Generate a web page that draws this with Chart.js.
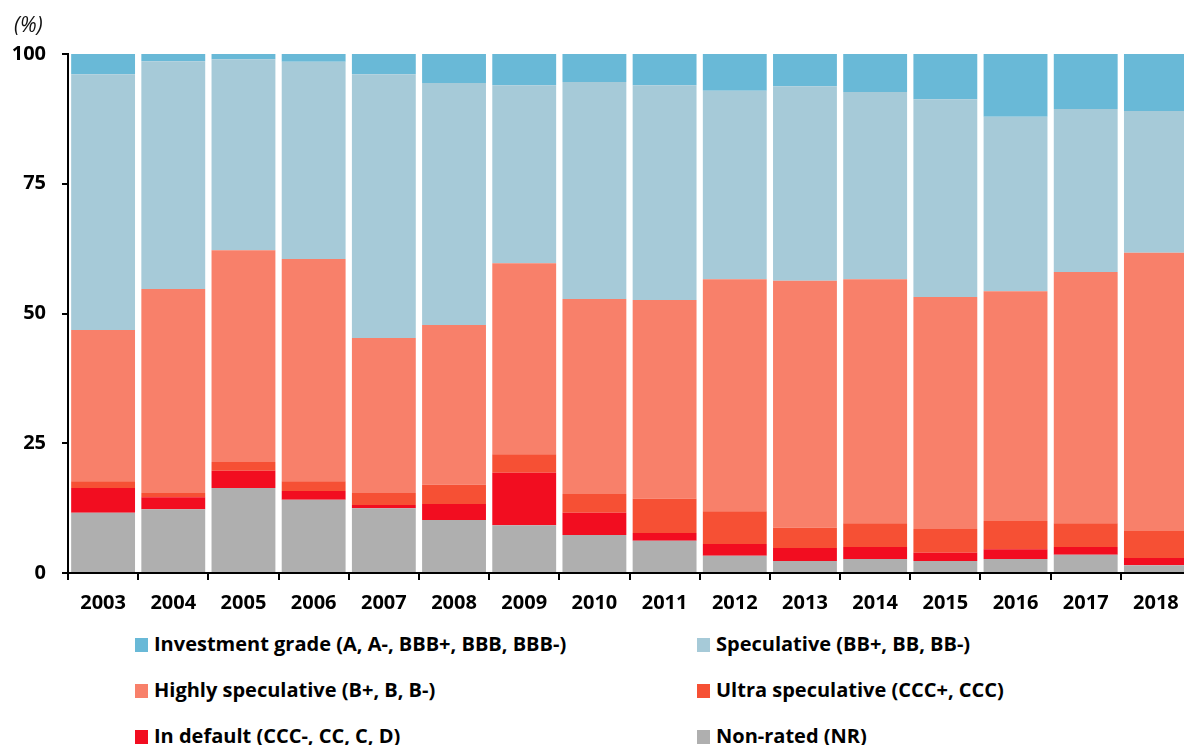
<!DOCTYPE html>
<html>
<head>
<meta charset="utf-8">
<script src="https://cdn.jsdelivr.net/npm/chart.js@4"></script>
<style>
    body { margin: 0; overflow: hidden; background: #fff; font-family: "Open Sans", sans-serif; }
    #wrap { position: relative; width: 1184px; height: 745px; overflow: hidden; }
    #myChart { position: absolute; left: 0; top: 0; }
    #unit { position: absolute; left: 14px; top: 10px; font-style: italic; font-size: 21px; color: #111; }
    .leg { position: absolute; font-weight: 700; font-size: 20px; color: #000; white-space: nowrap; line-height: 24px; letter-spacing: 0px; }
    .leg span { display: inline-block; width: 13px; height: 14px; margin-right: 6px; vertical-align: -1px; }
</style>
</head>
<body>
<div id="wrap">
    <canvas id="myChart" width="1191" height="625"></canvas>
    <div id="unit">(%)</div>
    <div id="legend"></div>
</div>
<script>
const years = ["2003", "2004", "2005", "2006", "2007", "2008", "2009", "2010",
    "2011", "2012", "2013", "2014", "2015", "2016", "2017", "2018"];

// shares in % of each year, bottom of the stack first
const nonRated = [11.6, 12.3, 16.4, 14.1, 12.5, 10.2, 9.2, 7.3, 6.2, 3.3, 2.3, 2.7, 2.3, 2.7, 3.5, 1.5];
const inDefault = [4.8, 2.3, 3.3, 1.7, 0.6, 3.1, 10.1, 4.3, 1.5, 2.3, 2.5, 2.3, 1.6, 1.9, 1.5, 1.4];
const ultraSpec = [1.3, 0.8, 1.7, 1.9, 2.3, 3.7, 3.6, 3.6, 6.6, 6.3, 3.9, 4.6, 4.6, 5.4, 4.6, 5.2];
const highlySpec = [29.1, 39.3, 40.8, 42.8, 29.9, 30.8, 36.8, 37.6, 38.3, 44.7, 47.6, 47.0, 44.7, 44.3, 48.4, 53.6];
const speculative = [49.3, 43.9, 36.8, 38.0, 50.8, 46.6, 34.3, 41.8, 41.4, 36.3, 37.5, 36.1, 38.1, 33.6, 31.4, 27.3];
const investGrade = [3.9, 1.4, 1.0, 1.5, 3.9, 5.6, 6.0, 5.4, 6.0, 7.1, 6.2, 7.3, 8.7, 12.1, 10.6, 11.0];

const yTicks = [0, 25, 50, 75, 100];

const seriesNames = [
    "Non-rated (NR)",
    "In default (CCC-, CC, C, D)",
    "Ultra speculative (CCC+, CCC)",
    "Highly speculative (B+, B, B-)",
    "Speculative (BB+, BB, BB-)",
    "Investment grade (A, A-, BBB+, BBB, BBB-)",
];
const seriesData = [nonRated, inDefault, ultraSpec, highlySpec, speculative, investGrade];
const seriesColors = ["#AFAFAF", "#F20D20", "#F65034", "#F8806A", "#A6CAD8", "#69B9D7"];

const tickFont = { family: "Open Sans", size: 20, weight: "bold" };

const ctx = document.getElementById("myChart").getContext("2d");
const myChart = new Chart(ctx, {
    type: "bar",
    data: {
        labels: years,
        datasets: seriesNames.map((name, i) => ({
            label: name,
            data: seriesData[i],
            backgroundColor: seriesColors[i],
            borderWidth: 0,
            categoryPercentage: 1,
            barPercentage: 0.91,
        })),
    },
    options: {
        responsive: false,
        animation: false,
        layout: { padding: { top: 54, right: 0, left: 0, bottom: 0 } },
        plugins: {
            legend: { display: false },
            tooltip: { enabled: false },
        },
        scales: {
            x: {
                stacked: true,
                afterFit: (scale) => { scale.height = 52; },
                ticks: { color: "#000", font: tickFont, padding: 11, maxRotation: 0 },
                grid: { drawOnChartArea: false, drawTicks: true, tickLength: 7, color: "#000", lineWidth: 2 },
                border: { color: "#000", width: 2 },
            },
            y: {
                stacked: true,
                min: 0,
                max: 100,
                afterFit: (scale) => { scale.width = 68; },
                afterBuildTicks: (scale) => { scale.ticks = yTicks.map((v) => ({ value: v })); },
                ticks: { color: "#000", font: tickFont, padding: 16 },
                grid: { drawOnChartArea: false, drawTicks: true, tickLength: 6, color: "#000", lineWidth: 2 },
                border: { color: "#000", width: 2 },
            },
        },
    },
});

// legend in two columns, top of the stack first
const legend = document.getElementById("legend");
const order = myChart.data.datasets.slice().reverse();
order.forEach((ds, i) => {
    const item = document.createElement("div");
    item.className = "leg";
    item.style.left = (i % 2 === 0 ? 135 : 697) + "px";
    item.style.top = (632 + Math.floor(i / 2) * 46) + "px";
    item.innerHTML = '<span style="background:' + ds.backgroundColor + '"></span>' + ds.label;
    legend.appendChild(item);
});
</script>
</body>
</html>
